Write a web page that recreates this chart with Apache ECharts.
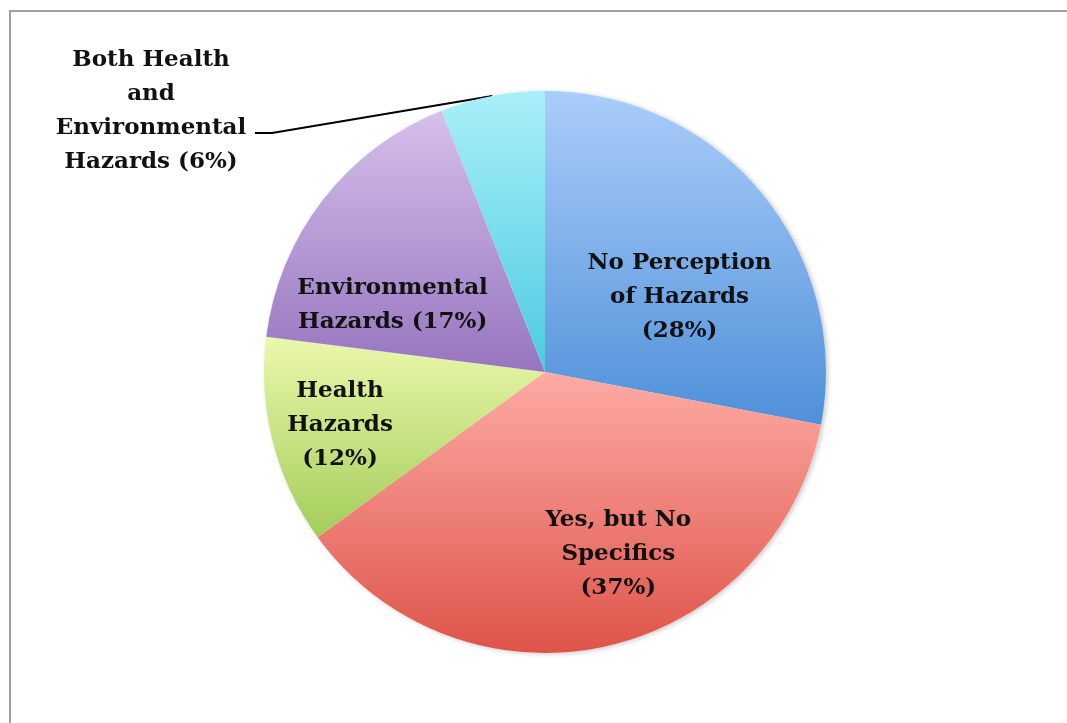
<!DOCTYPE html>
<html>
<head>
<meta charset="utf-8">
<script src="https://cdn.jsdelivr.net/npm/echarts@6/dist/echarts.min.js"></script>
<style>
  html, body { margin: 0; padding: 0; background: #fff; }
  #chart { width: 1067px; height: 723px; }
  .frame {
    position: absolute;
    left: 9px;
    top: 10px;
    width: 1100px;
    height: 800px;
    border-top: 2px solid #a0a0a0;
    border-left: 2px solid #a0a0a0;
    pointer-events: none;
  }
</style>
</head>
<body>
<div id="chart"></div>
<div class="frame"></div>
<script>
const categories = [
  'No Perception of Hazards',
  'Yes, but No Specifics',
  'Health Hazards',
  'Environmental Hazards',
  'Both Health and Environmental Hazards'
]
const values = [28, 37, 12, 17, 6]
const labelText = [
  'No Perception\nof Hazards\n({d}%)',
  'Yes, but No\nSpecifics\n({d}%)',
  'Health\nHazards\n({d}%)',
  'Environmental\nHazards ({d}%)',
  'Both Health\nand\nEnvironmental\nHazards ({d}%)'
]
// top / bottom colours of each slice's gradient
const colorsTop = ['#abcdfa', '#fdaba5', '#ebf8ab', '#d5c0eb', '#a9eff9']
const colorsBottom = ['#4f90d9', '#de5449', '#a3cd5a', '#9675bf', '#4ccbe0']

// nudges of the inside labels, to sit where the original has them
const labelShift = [[24, 17], [42, 42], [-66, 17], [-39, 21]]

const chart = echarts.init(document.getElementById('chart'))

chart.setOption({
  animation: false,
  series: [
    {
      // plain disc under the slices, only to cast the soft shadow
      type: 'pie',
      silent: true,
      z: 1,
      center: [545, 372],
      radius: 281,
      startAngle: 90,
      label: { show: false },
      labelLine: { show: false },
      itemStyle: {
        color: '#fff',
        shadowBlur: 5,
        shadowOffsetX: 2,
        shadowOffsetY: 1,
        shadowColor: 'rgba(0,0,0,0.22)'
      },
      data: values.map(function (v) { return { value: v } })
    },
    {
      type: 'pie',
      z: 2,
      center: [545, 372],
      radius: 281,
      startAngle: 90,
      clockwise: true,
      label: {
        position: 'inside',
        color: '#111',
        fontFamily: 'DejaVu Serif',
        fontWeight: 'bold',
        fontSize: 23,
        lineHeight: 34
      },
      labelLine: { show: false },
      labelLayout: function (p) {
        if (p.dataIndex === 4) {
          const start = p.labelLinePoints ? p.labelLinePoints[0] : [490, 95]
          return {
            x: 151,
            y: 111,
            align: 'center',
            verticalAlign: 'middle',
            labelLinePoints: [start, [272, 133], [255, 133]]
          }
        }
        const s = labelShift[p.dataIndex]
        return { dx: s[0], dy: s[1] }
      },
      itemStyle: { borderWidth: 0 },
      emphasis: { disabled: true },
      data: categories.map(function (name, i) {
        const item = {
          name: name,
          value: values[i],
          label: { formatter: labelText[i] },
          itemStyle: {
            color: new echarts.graphic.LinearGradient(0, 0, 0, 1, [
              { offset: 0, color: colorsTop[i] },
              { offset: 1, color: colorsBottom[i] }
            ])
          }
        }
        if (i === 4) {
          item.label.position = 'outside'
          item.labelLine = {
            show: true,
            length: 20,
            length2: 20,
            lineStyle: { color: '#000', width: 2 }
          }
        }
        return item
      })
    }
  ]
})
</script>
</body>
</html>
